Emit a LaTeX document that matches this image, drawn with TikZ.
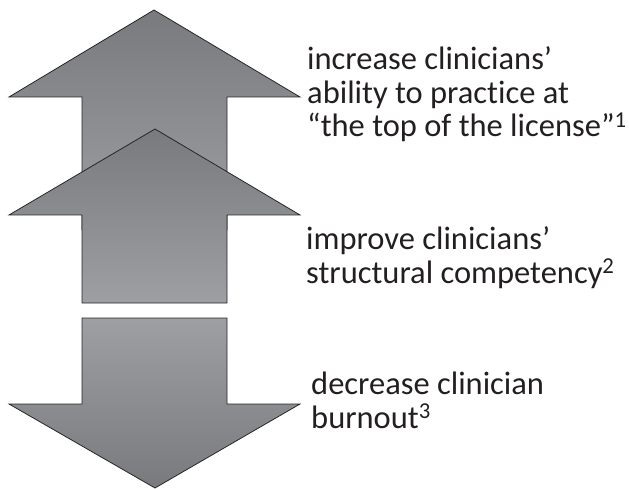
\documentclass[tikz,border=0pt]{standalone}
\usepackage{fontspec}
\setmainfont{Carlito}[Ligatures=NoCommon]

\definecolor{arrowdark}{RGB}{121,122,126}
\definecolor{arrowlight}{RGB}{158,159,163}
\definecolor{textgray}{RGB}{35,31,32}

\begin{document}
\begin{tikzpicture}[x=1pt, y=-1pt,
  arrowbody/.style={draw=black!85, line width=0.8pt, line join=miter},
  upfill/.style={top color=arrowdark, bottom color=arrowlight},
  downfill/.style={top color=arrowlight, bottom color=arrowdark},
  caption/.style={anchor=base west, inner sep=0pt, align=left, text=textgray,
    font=\fontsize{32.5}{33.5}\selectfont}]
  \useasboundingbox (0,0) rectangle (629,489);

  % Shaft and head sizes
  \def\sl{82}   % shaft left
  \def\sr{227}  % shaft right
  \def\hl{9}    % head left
  \def\hr{300}  % head right

  % Upper up arrow (partly hidden)
  \draw[arrowbody, upfill] (154,10) -- (\hr,97) -- (\sr,97) -- (\sr,230)
    -- (\sl,230) -- (\sl,97) -- (\hl,97) -- cycle;

  % Lower up arrow
  \draw[arrowbody, upfill] (155,129) -- (\hr,215) -- (\sr,215) -- (\sr,303)
    -- (\sl,303) -- (\sl,215) -- (\hl,215) -- cycle;

  % Down arrow
  \draw[arrowbody, downfill] (\sl,318) -- (\sr,318) -- (\sr,404) -- (\hr,404)
    -- (155,488) -- (\hl,404) -- (\sl,404) -- cycle;

  % Labels (base anchor = last line)
  \node[caption] (license) at (307,137)
    {increase clinicians’\\ability to practice at\\“the top of the license”\textsuperscript{1}};
  \node[caption] (competency) at (306,283)
    {improve clinicians’\\structural competency\textsuperscript{2}};
  \node[caption] (burnout) at (311,428)
    {decrease clinician\\burnout\textsuperscript{3}};

\end{tikzpicture}
\end{document}
